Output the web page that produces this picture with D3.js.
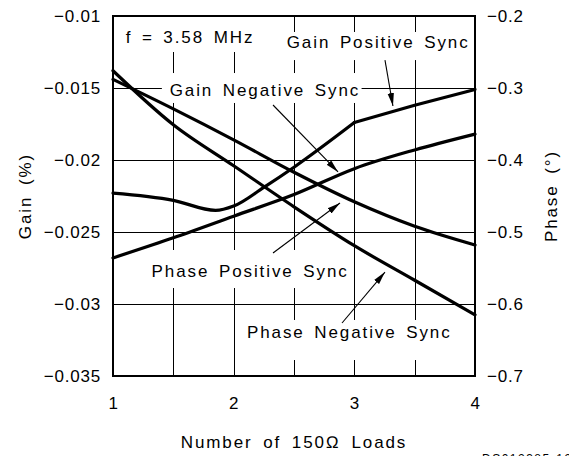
<!DOCTYPE html>
<html><head><meta charset="utf-8">
<script src="https://cdn.jsdelivr.net/npm/d3@7"></script>
<style>
html,body{margin:0;padding:0;background:#fff;}
svg{display:block;font-family:"Liberation Sans",Arial,sans-serif;}
</style></head><body>
<svg id="chart" width="569" height="456"></svg>
<script>
// Axis ticks
const loadTicks = [1, 2, 3, 4];
const loadGrid = [1.5, 2, 2.5, 3, 3.5];
const gainTicks = [-0.035, -0.03, -0.025, -0.02, -0.015, -0.01];
const gainTickLabels = ["\u22120.035", "\u22120.03", "\u22120.025", "\u22120.02", "\u22120.015", "\u22120.01"];
const phaseTicks = [-0.7, -0.6, -0.5, -0.4, -0.3, -0.2];
const phaseTickLabels = ["\u22120.7", "\u22120.6", "\u22120.5", "\u22120.4", "\u22120.3", "\u22120.2"];

// Differential gain (%) vs number of 150 ohm loads
const gainPosLoads = [1, 1.5, 1.85, 2, 2.25, 2.5, 3, 3.5, 4];
const gainPosSync = [-0.0223, -0.0228, -0.0235, -0.0232, -0.0219, -0.0205, -0.0174, -0.0162, -0.0151];
const gainNegLoads = [1, 1.5, 2, 2.5, 3, 3.5, 4];
const gainNegSync = [-0.0268, -0.0254, -0.0239, -0.0224, -0.0206, -0.0193, -0.0182];

// Differential phase (deg) vs number of 150 ohm loads
const phaseLoads = [1, 1.5, 2, 2.5, 3, 3.5, 4];
const phasePosSync = [-0.288, -0.329, -0.372, -0.417, -0.458, -0.492, -0.518];
const phaseNegSync = [-0.276, -0.351, -0.408, -0.465, -0.519, -0.567, -0.615];

const svg = d3.select("#chart");
const plot = {left: 113, right: 475, top: 16, bottom: 376};

const x = d3.scaleLinear().domain([1, 4]).range([plot.left, plot.right]);
const yGain = d3.scaleLinear().domain([-0.035, -0.01]).range([plot.bottom, plot.top]);
const yPhase = d3.scaleLinear().domain([-0.7, -0.2]).range([plot.bottom, plot.top]);

// grid
const grid = svg.append("g").attr("stroke", "#000").attr("stroke-width", 1).attr("shape-rendering", "crispEdges");
grid.selectAll("line.v").data(loadGrid).join("line")
  .attr("x1", d => Math.round(x(d)) + 0.5).attr("x2", d => Math.round(x(d)) + 0.5)
  .attr("y1", plot.top).attr("y2", plot.bottom);
grid.selectAll("line.h").data(gainTicks.slice(1, -1)).join("line")
  .attr("y1", d => Math.round(yGain(d)) + 0.5).attr("y2", d => Math.round(yGain(d)) + 0.5)
  .attr("x1", plot.left).attr("x2", plot.right);

// annotation labels (positioned in load / gain units) with blanked boxes
const notes = [
  {text: "f = 3.58 MHz", at: [1.105, -0.01188], box: [1.0, 2.24, -0.0100, -0.0125]},
  {text: "Gain Positive Sync", at: [2.44, -0.01222], box: [2.38, 3.96, -0.01111, -0.01306]},
  {text: "Gain Negative Sync", at: [1.47, -0.01556], box: [1.405, 3.06, -0.01396, -0.01604]},
  {text: "Phase Positive Sync", at: [1.32, -0.02813], box: [1.265, 2.94, -0.02625, -0.02889]},
  {text: "Phase Negative Sync", at: [2.11, -0.03236], box: [2.05, 3.79, -0.03111, -0.03389]}
];
const arrows = [
  [3.254, -0.01306, 3.320, -0.01625],
  [2.326, -0.01618, 2.865, -0.02083],
  [2.326, -0.02646, 2.881, -0.02299],
  [2.898, -0.03132, 3.254, -0.02778]
];

svg.append("g").selectAll("rect").data(notes).join("rect")
  .attr("x", d => x(d.box[0])).attr("width", d => x(d.box[1]) - x(d.box[0]))
  .attr("y", d => yGain(d.box[2])).attr("height", d => yGain(d.box[3]) - yGain(d.box[2]))
  .attr("fill", "#fff");

// curves
const smooth = d3.line().curve(d3.curveMonotoneX);
const straight = d3.line();
const curves = svg.append("g").attr("fill", "none").attr("stroke", "#000")
  .attr("stroke-width", 3.2).attr("stroke-linejoin", "round").attr("stroke-linecap", "round");

const gp = gainPosLoads.map((l, i) => [x(l), yGain(gainPosSync[i])]);
curves.append("path").attr("d", smooth(gp.filter((p, i) => gainPosLoads[i] <= 3)));
curves.append("path").attr("d", straight(gp.filter((p, i) => gainPosLoads[i] >= 3)));
curves.append("path").attr("d", smooth(gainNegLoads.map((l, i) => [x(l), yGain(gainNegSync[i])])));
curves.append("path").attr("d", smooth(phaseLoads.map((l, i) => [x(l), yPhase(phasePosSync[i])])));
curves.append("path").attr("d", smooth(phaseLoads.map((l, i) => [x(l), yPhase(phaseNegSync[i])])));

// label text
svg.append("g").attr("font-size", 17).attr("letter-spacing", 1.9).attr("word-spacing", 3)
  .selectAll("text").data(notes).join("text")
  .attr("x", d => x(d.at[0])).attr("y", d => yGain(d.at[1]))
  .text(d => d.text);

// arrows
svg.append("defs").append("marker")
  .attr("id", "head").attr("markerUnits", "userSpaceOnUse")
  .attr("markerWidth", 14).attr("markerHeight", 8).attr("refX", 13).attr("refY", 4)
  .attr("orient", "auto")
  .append("path").attr("d", "M0,0.8L13,4L0,7.2Z").attr("fill", "#000");
svg.append("g").attr("stroke", "#000").attr("stroke-width", 1.1)
  .selectAll("line").data(arrows).join("line")
  .attr("x1", d => x(d[0])).attr("y1", d => yGain(d[1]))
  .attr("x2", d => x(d[2])).attr("y2", d => yGain(d[3]))
  .attr("marker-end", "url(#head)");

// frame
svg.append("rect").attr("x", plot.left).attr("y", plot.top)
  .attr("width", plot.right - plot.left).attr("height", plot.bottom - plot.top)
  .attr("fill", "none").attr("stroke", "#000").attr("stroke-width", 2);

// axes
const styleAxis = g => {
  g.select(".domain").remove();
  g.selectAll("text").attr("font-size", 17).attr("fill", "#000")
    .attr("font-family", "Liberation Sans, Arial, sans-serif").attr("letter-spacing", 0.8);
};
svg.append("g").attr("transform", `translate(${plot.left},0)`)
  .call(d3.axisLeft(yGain).tickValues(gainTicks).tickSize(0).tickPadding(12)
    .tickFormat((d, i) => gainTickLabels[i]))
  .call(styleAxis);
svg.append("g").attr("transform", `translate(${plot.right},0)`)
  .call(d3.axisRight(yPhase).tickValues(phaseTicks).tickSize(0).tickPadding(12)
    .tickFormat((d, i) => phaseTickLabels[i]))
  .call(styleAxis);
svg.append("g").attr("transform", `translate(0,${plot.bottom})`)
  .call(d3.axisBottom(x).tickValues(loadTicks).tickSize(0).tickPadding(21)
    .tickFormat(d3.format("d")))
  .call(styleAxis);

// axis titles
const titles = svg.append("g").attr("font-size", 17).attr("letter-spacing", 1.9).attr("word-spacing", 4)
  .attr("text-anchor", "middle");
titles.append("text").attr("x", (plot.left + plot.right) / 2).attr("y", 448)
  .text("Number of 150\u2126 Loads");
titles.append("text").attr("transform", `translate(31,${(plot.top + plot.bottom) / 2}) rotate(-90)`)
  .text("Gain (%)");
titles.append("text").attr("transform", `translate(557,${(plot.top + plot.bottom) / 2}) rotate(-90)`)
  .text("Phase (\u00b0)");

// figure code at the page foot
svg.append("text").attr("x", 482).attr("y", 463).attr("font-size", 12).attr("letter-spacing", 1.5)
  .text("DS012385-12");
</script>
</body></html>
